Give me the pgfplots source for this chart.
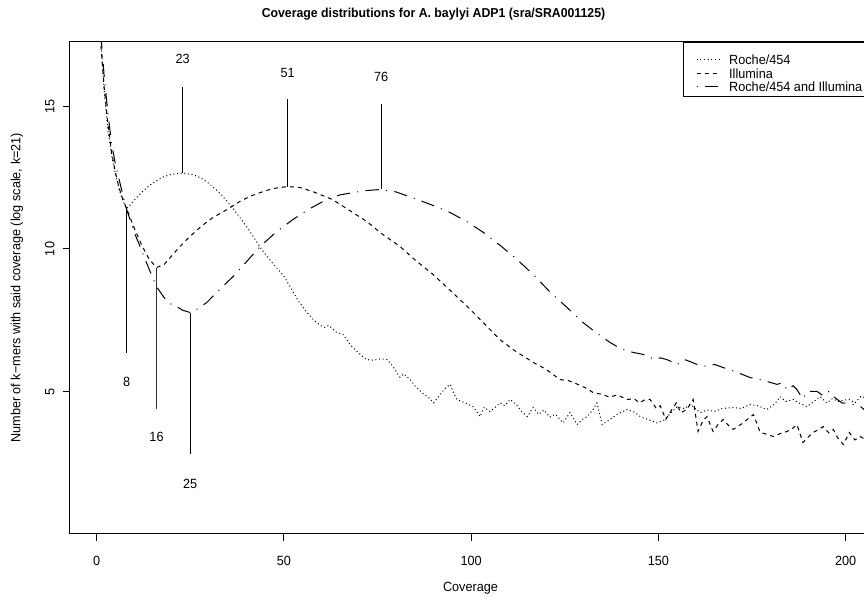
\documentclass[border=0pt]{standalone}
\usepackage{fontspec}
\setmainfont{Liberation Sans}[FakeStretch=0.95]
\usepackage{pgfplots}
\pgfplotsset{compat=1.18}
\begin{document}
\begin{tikzpicture}
\begin{axis}[
  x=2.80875pt, y=21.375pt,
  xmin=-7.1, xmax=211.6, ymin=0, ymax=17.28,
  axis line style={line width=0.75pt},
  every tick/.style={black, line width=0.75pt},
  tick align=outside, major tick length=5.5pt,
  xtick={0,50,100,150,200}, ytick={5,10,15},
  xtick pos=bottom, ytick pos=left,
  minor tick num=0,
  /pgf/number format/assume math mode=true,
  tick label style={font=\fontsize{10}{12}\selectfont},
  xticklabel style={inner sep=0pt, anchor=north},
  xticklabel shift=11pt,
  yticklabel style={rotate=90, anchor=south, inner sep=0pt},
  yticklabel shift=6pt,
  title={Coverage distributions for A. baylyi ADP1 (sra/SRA001125)},
  title style={font=\fontsize{9.7}{12}\selectfont\bfseries, at={(axis description cs:0.4438,1)}, anchor=center, yshift=14.25pt},
  xlabel={Coverage},
  xlabel style={font=\fontsize{10}{12}\selectfont, at={(axis description cs:0.489,0)}, anchor=center, yshift=-40.5pt},
  ylabel={Number of k−mers with said coverage (log scale, k=21)},
  ylabel style={font=\fontsize{10}{12}\selectfont, at={(axis description cs:0,0.5)}, anchor=center, yshift=39.75pt},
  legend style={at={(axis description cs:0.7485,1)}, anchor=north west, draw=black, line width=0.75pt, fill=white,
    font=\fontsize{10}{12}\selectfont, inner xsep=9.5pt, inner ysep=3.4pt, row sep=-3.4pt,
    nodes={inner sep=0pt, inner xsep=1pt, text height=13.5pt, text depth=0pt},
    /tikz/every odd column/.append style={column sep=6pt}},
  legend cell align=left,
  legend image code/.code={\draw[#1] (0pt,-3pt) -- (17pt,-3pt);},
  clip=true,
]
\addplot[black, line width=0.75pt, dash pattern=on 0.75pt off 2pt] coordinates {
(1,17.6)(2,15.6)(3,14.2)(4,13.3)(5,12.65)(6,12.1)(7,11.7)(8,11.42)(9,11.55)(10,11.7)(12,11.98)(14,12.22)(16,12.4)(18,12.54)(20,12.62)(23,12.67)(26,12.6)(28,12.48)(30,12.3)(33,11.95)(36,11.5)(40,10.8)(44,10.0)(47,9.5)(50,9.05)(52,8.6)(54,8.15)(56,7.8)(58,7.5)(60,7.3)(61,7.25)(62,7.32)(64,7.08)(65.8,7.0)(68,6.6)(70,6.35)(72,6.12)(74,6.1)(76,6.15)(77.6,6.12)(79,5.9)(80,5.7)(81,5.5)(82,5.62)(83.7,5.42)(85,5.2)(87,4.95)(89,4.75)(90,4.6)(91.5,4.85)(93,5.1)(94.4,5.25)(95.5,4.9)(96.2,4.72)(98,4.62)(100.5,4.47)(101.5,4.3)(102.4,4.12)(103.5,4.45)(105,4.3)(106.5,4.45)(107.7,4.6)(109,4.5)(110.4,4.72)(112,4.55)(113.5,4.3)(115,4.12)(116.6,4.44)(118,4.2)(119.5,4.35)(121,4.1)(122.5,4.2)(124.6,3.9)(126.4,4.26)(128.3,3.84)(130,4.05)(131,4.12)(132.5,4.35)(133.6,4.6)(135,3.84)(137.1,4.02)(139,4.2)(141.7,4.37)(143.5,4.28)(145.2,4.12)(147.5,4.0)(149.7,3.9)(151.5,4.0)(153,4.2)(155,4.47)(157,4.4)(158.5,4.55)(161.2,4.26)(163,4.35)(165,4.3)(167,4.4)(170,4.44)(172,4.4)(174.5,4.54)(176.5,4.5)(179,4.37)(181,4.55)(182.5,4.82)(184,4.65)(186,4.72)(187.5,4.6)(189.7,4.47)(191.5,4.65)(193.2,4.82)(195,4.6)(196.5,4.75)(198,4.65)(199.5,4.7)(201,4.72)(202.5,4.6)(204,4.82)(206,4.75)(208,4.8)(210,4.7)
};
\addlegendentry{Roche/454}
\addplot[black, line width=0.75pt, dash pattern=on 3pt off 3pt] coordinates {
(1,17.4)(2,15.7)(3,14.4)(4,13.4)(5,12.7)(6,12.15)(7,11.75)(8,11.42)(10,10.75)(12,10.15)(14,9.65)(16,9.35)(18,9.45)(20,9.75)(22,10.05)(25,10.45)(28,10.8)(31,11.1)(34.8,11.38)(38,11.65)(41,11.85)(43.7,11.98)(47,12.12)(51,12.19)(54.3,12.16)(58,12.0)(62.9,11.74)(67,11.4)(72.2,10.96)(76,10.55)(81,10.09)(85,9.62)(89.9,9.1)(94,8.6)(99,7.98)(103,7.45)(107.7,6.82)(112,6.4)(116.6,6.02)(120,5.78)(123.7,5.42)(126,5.38)(128.5,5.25)(131,5.1)(132.6,4.96)(135,4.9)(137,4.8)(139,4.88)(141.7,4.72)(143.5,4.75)(145,4.6)(146.5,4.72)(147.8,4.72)(149.5,4.4)(150.5,4.5)(152,4.02)(153.3,4.3)(154.8,4.6)(156,4.25)(157.6,4.37)(159.3,4.72)(160.6,3.6)(162,4.0)(163,4.12)(164.6,3.6)(166,3.85)(167.3,4.02)(168.8,3.8)(170,3.67)(171.5,3.8)(172.7,3.9)(174,4.05)(175.4,4.19)(177.2,3.56)(179,3.5)(180.7,3.42)(182.5,3.52)(184.4,3.6)(186,3.72)(187,3.84)(188.6,3.21)(190,3.4)(191.3,3.56)(193,3.68)(194,3.77)(195.5,3.55)(196.7,3.67)(198,3.35)(199.4,3.14)(201,3.56)(202.5,3.3)(203.9,3.42)(205.5,3.3)(207,3.45)(209,3.3)(211,3.4)
};
\addlegendentry{Illumina}
\addplot[black, line width=0.75pt, dash pattern=on 0.75pt off 5.5pt on 10pt off 5.5pt] coordinates {
(1,17.8)(2,16.1)(3,14.8)(4,13.7)(5,13.0)(6,12.45)(7,11.9)(8,11.4)(10,10.6)(11.6,10.09)(14,9.3)(16,8.68)(18,8.3)(20,8.05)(21.4,7.98)(23,7.85)(25,7.77)(27,7.9)(29.4,8.12)(33,8.6)(36.5,9.04)(40,9.55)(43.7,10.09)(48,10.6)(52.5,11.04)(57,11.42)(61.5,11.74)(65,11.9)(68.6,11.98)(72,12.05)(76,12.09)(80,12.0)(85.6,11.74)(90,11.52)(94.4,11.28)(99,10.95)(103.3,10.58)(108,10.1)(112.3,9.63)(117,9.05)(121,8.5)(125.6,7.95)(129.9,7.42)(133,7.1)(137.1,6.72)(140,6.5)(143.3,6.37)(146,6.3)(149,6.12)(150.5,6.18)(152.3,6.12)(155,5.95)(157,6.12)(158.5,6.05)(160.3,5.95)(163,5.88)(165,5.95)(167.3,5.84)(170,5.72)(172,5.62)(174.5,5.49)(177,5.42)(179,5.35)(181.7,5.25)(183,5.3)(184.5,5.05)(186,5.2)(187,5.07)(188.5,4.75)(190,5.0)(192.4,5.0)(194,4.85)(195.5,5.0)(197,4.8)(199,4.6)(201,4.58)(203,4.5)(204,4.47)(205.5,4.3)(207,4.35)(209,4.2)(211,4.25)
};
\addlegendentry{Roche/454 and Illumina}
% peak / trough markers
\addplot[black, line width=0.75pt, forget plot] coordinates {(23,12.67) (23,15.67)};
\addplot[black, line width=0.75pt, forget plot] coordinates {(51,12.19) (51,15.25)};
\addplot[black, line width=0.75pt, forget plot] coordinates {(76,12.09) (76,15.07)};
\addplot[black, line width=0.75pt, forget plot] coordinates {(8,11.4) (8,6.35)};
\addplot[black!80, line width=0.75pt, forget plot] coordinates {(16,9.35) (16,4.37)};
\addplot[black, line width=0.75pt, forget plot] coordinates {(25,7.77) (25,2.79)};
\node[font=\fontsize{10}{12}\selectfont] at (axis cs:23,16.68) {23};
\node[font=\fontsize{10}{12}\selectfont] at (axis cs:51,16.19) {51};
\node[font=\fontsize{10}{12}\selectfont] at (axis cs:76,16.05) {76};
\node[font=\fontsize{10}{12}\selectfont] at (axis cs:8,5.32) {8};
\node[font=\fontsize{10}{12}\selectfont] at (axis cs:16,3.39) {16};
\node[font=\fontsize{10}{12}\selectfont] at (axis cs:25,1.77) {25};
\coordinate (ll) at (rel axis cs:0,0);
\end{axis}
\pgfresetboundingbox
\path[use as bounding box] (ll) ++(-52.5pt,-48pt) rectangle ++(648pt,448.5pt);
\end{tikzpicture}
\end{document}
